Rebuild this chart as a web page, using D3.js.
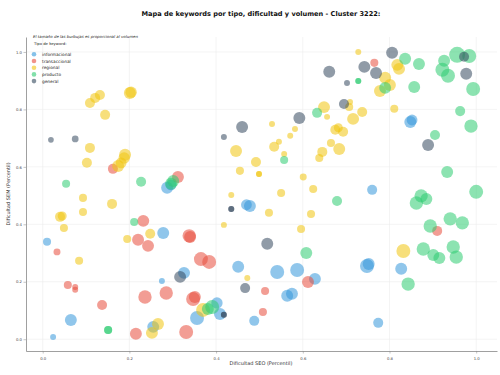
<!DOCTYPE html>
<html>
<head>
<meta charset="utf-8">
<script src="https://cdn.jsdelivr.net/npm/d3@7"></script>
<style>
  body { margin: 0; background: #fff; }
  svg { font-family: "DejaVu Sans", sans-serif; }
</style>
</head>
<body>
<svg id="chart" width="500" height="375"></svg>
<script>
"use strict";

// Tipos de keyword (orden de dibujo y de leyenda)
const tipos = ["informacional", "transaccional", "regional", "producto", "general"];
const colores = ["#3498db", "#e74c3c", "#f1c40f", "#2ecc71", "#34495e"];

// [dificultad SEO, dificultad SEM, volumen]
const informacional = [
  [0.010, 0.339, 2000], [0.024, 0.008, 1100], [0.065, 0.067, 4400], [0.278, 0.370, 4400],
  [0.287, 0.527, 4400], [0.296, 0.537, 3600], [0.326, 0.231, 4400], [0.275, 0.203, 1100],
  [0.402, 0.126, 4000], [0.356, 0.074, 6000], [0.409, 0.088, 4400], [0.255, 0.043, 4400],
  [0.478, 0.464, 4400], [0.470, 0.468, 3600], [0.451, 0.252, 4400], [0.541, 0.234, 6000],
  [0.587, 0.241, 6000], [0.628, 0.210, 4400], [0.564, 0.151, 4400], [0.575, 0.158, 4400],
  [0.488, 0.064, 3100], [0.760, 0.520, 3100], [0.748, 0.255, 6000], [0.752, 0.262, 4400],
  [0.827, 0.245, 4400], [0.774, 0.057, 3100], [0.848, 0.756, 4400], [0.852, 0.763, 3600]
];
const transaccional = [
  [0.033, 0.304, 1500], [0.058, 0.189, 2000], [0.075, 0.182, 1100], [0.075, 0.172, 1100],
  [0.137, 0.119, 3100], [0.232, 0.412, 4400], [0.220, 0.346, 4400], [0.243, 0.325, 4400],
  [0.338, 0.360, 5500], [0.340, 0.356, 4400], [0.365, 0.279, 6000], [0.384, 0.269, 6000],
  [0.285, 0.161, 5500], [0.236, 0.147, 5500], [0.347, 0.140, 6000], [0.351, 0.147, 4400],
  [0.215, 0.019, 4400], [0.331, 0.025, 6000], [0.513, 0.168, 2000], [0.508, 0.095, 2000],
  [0.612, 0.199, 4400], [0.765, 0.962, 2000], [0.910, 0.377, 3100], [0.162, 0.593, 3100],
  [0.312, 0.565, 4400]
];
const regional = [
  [0.109, 0.822, 3100], [0.121, 0.840, 3100], [0.132, 0.850, 3100], [0.201, 0.857, 4400],
  [0.204, 0.860, 4000], [0.144, 0.781, 3100], [0.109, 0.666, 3100], [0.190, 0.642, 4400],
  [0.188, 0.631, 4000], [0.102, 0.614, 3100], [0.174, 0.603, 4400], [0.181, 0.614, 3600],
  [0.093, 0.492, 2000], [0.160, 0.471, 3100], [0.093, 0.443, 2000], [0.040, 0.426, 3100],
  [0.045, 0.429, 2500], [0.049, 0.387, 2000], [0.084, 0.273, 2000], [0.248, 0.367, 3100],
  [0.195, 0.349, 2000], [0.266, 0.053, 4400], [0.252, 0.022, 4400], [0.370, 0.102, 6000],
  [0.446, 0.655, 4400], [0.492, 0.617, 3100], [0.455, 0.586, 2000], [0.499, 0.575, 1100],
  [0.499, 0.575, 1100], [0.435, 0.502, 1100], [0.418, 0.398, 1100], [0.472, 0.213, 1100],
  [0.522, 0.440, 2000], [0.619, 0.436, 2000], [0.596, 0.384, 2000], [0.550, 0.509, 2000],
  [0.624, 0.523, 2000], [0.601, 0.565, 1500], [0.529, 0.749, 1100], [0.582, 0.732, 1100],
  [0.571, 0.708, 1100], [0.545, 0.687, 1100], [0.534, 0.670, 3100], [0.557, 0.645, 1100],
  [0.649, 0.808, 4400], [0.656, 0.774, 1100], [0.707, 0.808, 2000], [0.709, 0.826, 1100],
  [0.737, 0.791, 3100], [0.716, 0.767, 4400], [0.675, 0.729, 3100], [0.682, 0.736, 2500],
  [0.693, 0.722, 3100], [0.665, 0.683, 2000], [0.684, 0.662, 4400], [0.645, 0.652, 3100],
  [0.638, 0.631, 2000], [0.728, 1.000, 1100], [0.818, 0.955, 4400], [0.822, 0.941, 4400],
  [0.790, 0.910, 4400], [0.801, 0.885, 4400], [0.778, 0.864, 4400], [0.811, 0.802, 2000],
  [0.832, 0.307, 6000]
];
const producto = [
  [0.054, 0.541, 2000], [0.227, 0.548, 3100], [0.301, 0.551, 4400], [0.296, 0.541, 4400],
  [0.211, 0.408, 2000], [0.151, 0.032, 2000], [0.151, 0.032, 2000], [0.391, 0.112, 6000],
  [0.381, 0.105, 4400], [0.557, 0.624, 2000], [0.633, 0.788, 3100], [0.728, 0.899, 1100],
  [0.728, 0.899, 1100], [0.790, 0.875, 4400], [0.836, 0.976, 4400], [0.868, 0.958, 4400],
  [0.857, 0.878, 4400], [0.926, 0.969, 4400], [0.956, 0.990, 7900], [0.984, 0.986, 6000],
  [0.922, 0.938, 6000], [0.935, 0.917, 6000], [0.993, 0.871, 6000], [0.963, 0.794, 3100],
  [0.988, 0.742, 5500], [0.905, 0.711, 3100], [0.933, 0.582, 4400], [1.000, 0.513, 6000],
  [0.873, 0.499, 5500], [0.862, 0.474, 5500], [0.885, 0.488, 4400], [0.940, 0.419, 5500],
  [0.968, 0.405, 5500], [0.894, 0.394, 5500], [0.878, 0.314, 5500], [0.901, 0.293, 4400],
  [0.915, 0.283, 4400], [0.947, 0.321, 5500], [0.954, 0.286, 5500], [0.843, 0.192, 5500],
  [0.608, 0.300, 4400], [0.679, 0.481, 3100]
];
const general = [
  [0.019, 0.694, 1000], [0.075, 0.697, 1400], [0.460, 0.739, 4400], [0.418, 0.704, 1100],
  [0.592, 0.770, 4400], [0.435, 0.453, 1100], [0.435, 0.453, 1100], [0.317, 0.217, 4400],
  [0.518, 0.332, 4400], [0.467, 0.178, 3100], [0.418, 0.085, 1100], [0.418, 0.085, 1100],
  [0.661, 0.931, 4400], [0.702, 0.892, 1100], [0.695, 0.819, 3100], [0.742, 0.948, 4400],
  [0.769, 0.927, 4400], [0.806, 0.997, 4400], [0.972, 0.983, 3100], [0.977, 0.924, 4400],
  [0.889, 0.676, 4400]
];
const series = [informacional, transaccional, regional, producto, general];

const xTicks = [0, 0.2, 0.4, 0.6, 0.8, 1.0];
const yTicks = [0, 0.2, 0.4, 0.6, 0.8, 1.0];

// Área del gráfico
const plot = { left: 26, right: 497, top: 37, bottom: 351 };

const x = d3.scaleLinear().domain([-0.0385, 1.048]).range([plot.left, plot.right]);
const y = d3.scaleLinear().domain([-0.041, 1.052]).range([plot.bottom, plot.top]);
const r = d3.scaleSqrt().domain([0, 10000]).range([0, 9]);

const svg = d3.select("#chart");

// Rejilla
svg.append("g")
  .selectAll("line")
  .data(xTicks)
  .join("line")
  .attr("x1", (d) => x(d)).attr("x2", (d) => x(d))
  .attr("y1", plot.top).attr("y2", plot.bottom)
  .attr("stroke", "#ececec").attr("stroke-width", 0.6);
svg.append("g")
  .selectAll("line")
  .data(yTicks)
  .join("line")
  .attr("y1", (d) => y(d)).attr("y2", (d) => y(d))
  .attr("x1", plot.left).attr("x2", plot.right)
  .attr("stroke", "#ececec").attr("stroke-width", 0.6);

// Burbujas
series.forEach((datos, i) => {
  svg.append("g")
    .selectAll("circle")
    .data(datos)
    .join("circle")
    .attr("cx", (d) => x(d[0]))
    .attr("cy", (d) => y(d[1]))
    .attr("r", (d) => r(d[2]))
    .attr("fill", colores[i])
    .attr("fill-opacity", 0.55);
});

// Ejes
const ejeX = svg.append("g")
  .attr("transform", `translate(0,${plot.bottom})`)
  .call(d3.axisBottom(x).tickValues(xTicks).tickFormat(d3.format(".1f")).tickSize(2.5).tickSizeOuter(0));
const ejeY = svg.append("g")
  .attr("transform", `translate(${plot.left},0)`)
  .call(d3.axisLeft(y).tickValues(yTicks).tickFormat(d3.format(".1f")).tickSize(2.5).tickSizeOuter(0));
[ejeX, ejeY].forEach((g) => {
  g.select(".domain").attr("stroke", "#888").attr("stroke-width", 0.8);
  g.selectAll(".tick line").attr("stroke", "#888").attr("stroke-width", 0.5);
  g.selectAll(".tick text").attr("font-size", 3.8).attr("fill", "#444")
    .attr("font-family", "DejaVu Sans");
});
ejeX.selectAll(".tick text").attr("dy", "0.9em");
ejeY.selectAll(".tick text").attr("x", -4);

// Títulos
svg.append("text")
  .attr("x", 261).attr("y", 16)
  .attr("text-anchor", "middle")
  .attr("font-size", 6.6).attr("font-weight", "bold").attr("fill", "#111")
  .text("Mapa de keywords por tipo, dificultad y volumen - Cluster 3222:");

svg.append("text")
  .attr("x", 261).attr("y", 365)
  .attr("text-anchor", "middle")
  .attr("font-size", 5).attr("fill", "#333")
  .text("Dificultad SEO (Percentil)");

svg.append("text")
  .attr("transform", `translate(10,${(plot.top + plot.bottom) / 2}) rotate(-90)`)
  .attr("text-anchor", "middle")
  .attr("font-size", 5).attr("fill", "#333")
  .text("Dificultad SEM (Percentil)");

// Leyenda
const leyenda = svg.append("g");
leyenda.append("text")
  .attr("x", 33).attr("y", 37.5)
  .attr("font-size", 3.9).attr("font-style", "italic").attr("fill", "#222")
  .text("El tamaño de las burbujas es proporcional al volumen");
leyenda.append("text")
  .attr("x", 34).attr("y", 44.5)
  .attr("font-size", 3.8).attr("fill", "#222")
  .text("Tipo de keyword:");
tipos.forEach((t, i) => {
  const yy = 54.3 + i * 6.7;
  leyenda.append("circle")
    .attr("cx", 34).attr("cy", yy).attr("r", 2.3)
    .attr("fill", colores[i]).attr("fill-opacity", 0.6);
  leyenda.append("text")
    .attr("x", 42).attr("y", yy + 1.5)
    .attr("font-size", 4.3).attr("fill", "#222")
    .text(t);
});
</script>
</body>
</html>
